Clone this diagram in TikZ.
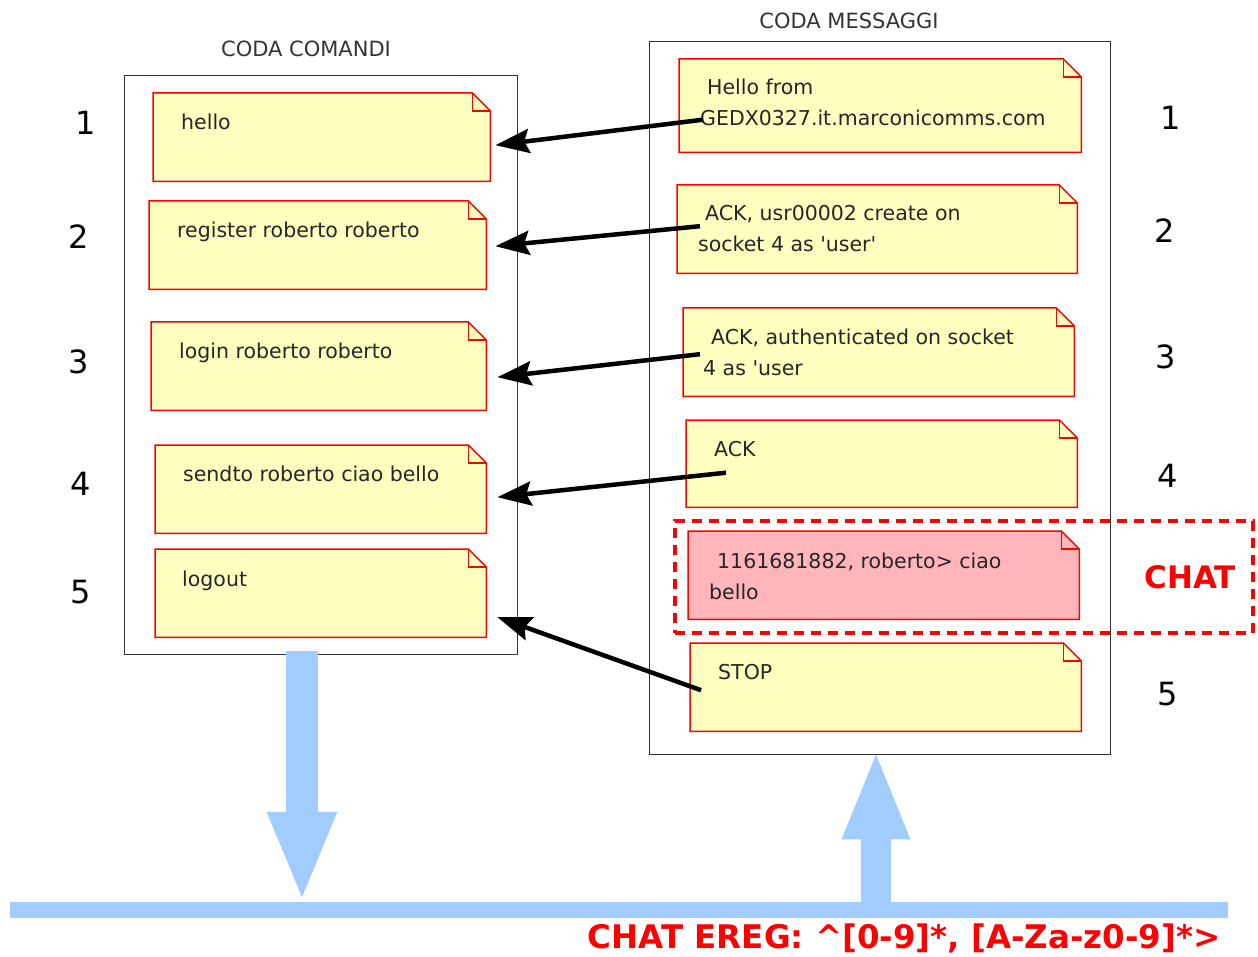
\documentclass[tikz,border=0pt]{standalone}
\usepackage{fontspec}
\setmainfont{DejaVu Sans}
\usetikzlibrary{arrows.meta}

\definecolor{noteyellow}{HTML}{FFFFC0}
\definecolor{notepink}{HTML}{FFB6BA}
\definecolor{busblue}{HTML}{A0CCFF}
\definecolor{framegray}{HTML}{333333}

\begin{document}
\begin{tikzpicture}[x=1pt, y=-1pt,
  queue/.style={draw=framegray, line width=1.4pt, inner sep=0pt, anchor=north west},
  notebd/.style={draw=red, line width=1.5pt},
  notetxt/.style={inner sep=0pt, anchor=base west, align=left, text=black!85,
    font=\fontsize{20.5}{31}\selectfont},
  qtitle/.style={inner sep=0pt, text=black!80, font=\fontsize{21}{21}\selectfont},
  qnum/.style={inner sep=0pt, font=\fontsize{32}{32}\selectfont},
  msgarrow/.style={line width=4.5pt, -{Stealth[length=34pt, width=24pt, inset=5pt]}},
  bluearrow/.style={draw=busblue, line width=#1},
  redtxt/.style={inner sep=0pt, text=red, font=\fontsize{#1}{#1}\selectfont\bfseries}]

\newcommand\DOG{18}

%% one note: name, x, y, width, height, fill
\newcommand\NOTE[6]{%
  \node[inner sep=0pt, minimum width=#4, minimum height=#5, anchor=north west] (#1) at (#2,#3) {};
  \draw[notebd, fill=#6] (#1.north west) -- ([xshift=-\DOG pt]#1.north east)
    -- ([yshift=-\DOG pt]#1.north east) -- (#1.south east) -- (#1.south west) -- cycle;
  \draw[notebd] ([xshift=-\DOG pt]#1.north east) -- ([xshift=-\DOG pt, yshift=-\DOG pt]#1.north east)
    -- ([yshift=-\DOG pt]#1.north east);
}

\useasboundingbox (0,0) rectangle (1258,957);

%% queues
\node[queue, minimum width=393, minimum height=579] (cmd) at (124,75) {};
\node[queue, minimum width=461, minimum height=713] (msg) at (649,41) {};

\node[qtitle] (cmdtitle) at (306,49) {CODA COMANDI};
\node[qtitle] (msgtitle) at (849,21) {CODA MESSAGGI};

%% commands
\NOTE{c1}{153}{93}{337}{88}{noteyellow}
\NOTE{c2}{149}{201}{337}{88}{noteyellow}
\NOTE{c3}{151}{322}{335}{88}{noteyellow}
\NOTE{c4}{155}{445}{331}{88}{noteyellow}
\NOTE{c5}{155}{549}{331}{88}{noteyellow}

\node[notetxt] (c1t) at (181,130) {hello};
\node[notetxt] (c2t) at (177,238) {register roberto roberto};
\node[notetxt] (c3t) at (179,359) {login roberto roberto};
\node[notetxt] (c4t) at (183,481) {sendto roberto ciao bello};
\node[notetxt] (c5t) at (182,586) {logout};

%% messages
\NOTE{m1}{679}{59}{402}{93}{noteyellow}
\NOTE{m2}{677}{185}{400}{88}{noteyellow}
\NOTE{m3}{683}{308}{391}{88}{noteyellow}
\NOTE{m4}{686}{420}{391}{87}{noteyellow}
\NOTE{mchat}{688}{531}{391}{88}{notepink}
\NOTE{m5}{690}{643}{391}{88}{noteyellow}

%% two-line texts sit on their last line
\node[notetxt] (m1t) at (700,126) {\hspace*{7pt}Hello from\\GEDX0327.it.marconicomms.com};
\node[notetxt] (m2t) at (698,252) {\hspace*{7pt}ACK, usr00002 create on\\socket 4 as \textquotesingle user\textquotesingle};
\node[notetxt] (m3t) at (703,375) {\hspace*{8pt}ACK, authenticated on socket\\4 as \textquotesingle user};
\node[notetxt] (m4t) at (714,456) {ACK};
\node[notetxt] (mchatt) at (709,599) {\hspace*{8pt}1161681882, roberto> ciao\\bello};
\node[notetxt] (m5t) at (718,679) {STOP};

%% chat frame
\node[draw=red, line width=3.5pt, dash pattern=on 10pt off 7pt, inner sep=0pt,
  minimum width=578, minimum height=112] (chat) at (964,577) {};
\node[redtxt=31] (chatt) at (1190,577) {CHAT};

%% numbers
\node[qnum] (cn1) at (86,123) {1};
\node[qnum] (cn2) at (79,237) {2};
\node[qnum] (cn3) at (79,362) {3};
\node[qnum] (cn4) at (81,484) {4};
\node[qnum] (cn5) at (81,592) {5};

\node[qnum] (mn1) at (1171,118) {1};
\node[qnum] (mn2) at (1165,231) {2};
\node[qnum] (mn3) at (1166,357) {3};
\node[qnum] (mn4) at (1168,476) {4};
\node[qnum] (mn5) at (1168,694) {5};

%% replies
\draw[msgarrow] ([xshift=24pt, yshift=-14pt]m1.west) -- ([xshift=5pt, yshift=-8pt]c1.east);
\draw[msgarrow] ([xshift=23pt, yshift=3pt]m2.west) -- ([xshift=9pt, yshift=-1pt]c2.east);
\draw[msgarrow] ([xshift=17pt, yshift=-2pt]m3.west) -- ([xshift=11pt, yshift=-11pt]c3.east);
\draw[msgarrow] ([xshift=40pt, yshift=-9pt]m4.west) -- ([xshift=11pt, yshift=-8pt]c4.east);
\draw[msgarrow] ([xshift=11pt, yshift=-3pt]m5.west) -- ([xshift=11pt, yshift=-24pt]c5.east);

%% socket
\node[fill=busblue, inner sep=0pt, minimum width=1218, minimum height=16] (bus) at (619,910) {};

\coordinate (dn) at (302,0);
\coordinate (up) at (876,0);

\draw[bluearrow=32pt, -{Triangle[length=90pt, width=63pt]}] ([yshift=4pt]dn |- cmd.south) -- (dn |- bus.north);
\draw[bluearrow=30pt, -{Triangle[length=90pt, width=61pt]}] (up |- bus.north) -- ([yshift=6pt]up |- msg.south);

\node[redtxt=32.5, anchor=base] (ereg) at (904,948) {CHAT EREG: \textasciicircum[0-9]*, [A-Za-z0-9]*>};

\end{tikzpicture}
\end{document}
